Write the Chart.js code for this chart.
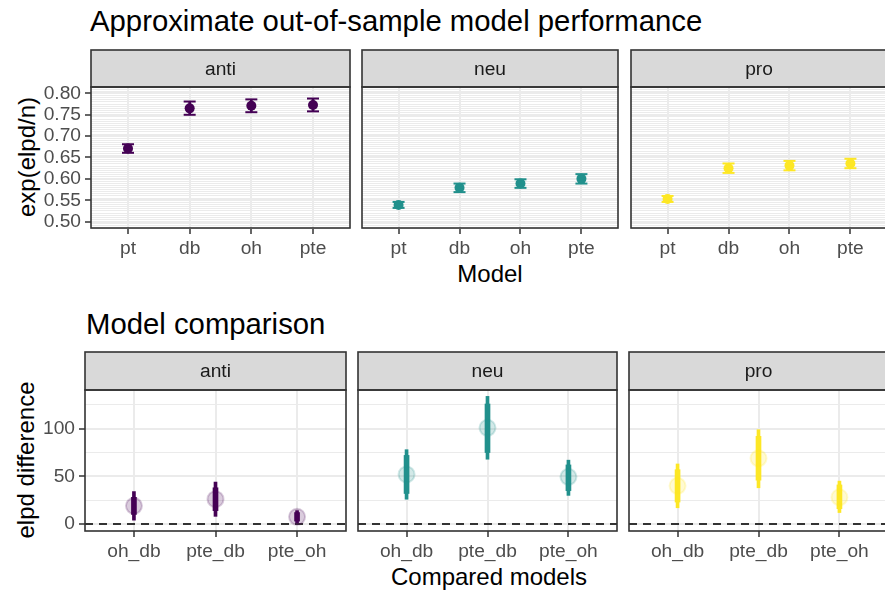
<!DOCTYPE html>
<html>
<head>
<meta charset="utf-8">
<script src="https://cdn.jsdelivr.net/npm/chart.js@4.4.1/dist/chart.umd.min.js"></script>
<style>
  html, body { margin: 0; padding: 0; background: #fff; }
  body { position: relative; width: 885px; height: 591px; overflow: hidden; font-family: "Liberation Sans", Arial, sans-serif; }
  canvas { position: absolute; }
  .title { position: absolute; font-size: 29.3px; line-height: 1; color: #000; white-space: nowrap; }
  .axis-title { position: absolute; font-size: 24px; line-height: 1; color: #000; white-space: nowrap; }
  .x-title { transform: translateX(-50%); }
  .y-title { transform: translate(-50%, -50%) rotate(-90deg); }
</style>
</head>
<body>
<div class="title" style="left:90px; top:6px">Approximate out-of-sample model performance</div>
<div class="axis-title x-title" style="left:490px; top:262px">Model</div>
<div class="axis-title y-title" style="left:27px; top:157px">exp(elpd/n)</div>

<div class="title" style="left:86px; top:309px">Model comparison</div>
<div class="axis-title x-title" style="left:489px; top:565px">Compared models</div>
<div class="axis-title y-title" style="left:26px; top:460px">elpd difference</div>

<script>
// categories
const GROUPS = ['anti', 'neu', 'pro'];
const GROUP_COLORS = ['#440154', '#21908C', '#FDE725'];
const MODELS = ['pt', 'db', 'oh', 'pte'];
const COMPARISONS = ['oh_db', 'pte_db', 'pte_oh'];

// exp(elpd/n): estimate and error bar ends, in MODELS order
const perfAnti = [0.671, 0.765, 0.771, 0.773];
const perfAntiLo = [0.661, 0.750, 0.756, 0.758];
const perfAntiHi = [0.681, 0.781, 0.786, 0.788];
const perfNeu = [0.539, 0.579, 0.589, 0.600];
const perfNeuLo = [0.532, 0.569, 0.579, 0.589];
const perfNeuHi = [0.546, 0.589, 0.599, 0.611];
const perfPro = [0.553, 0.625, 0.631, 0.636];
const perfProLo = [0.546, 0.614, 0.620, 0.625];
const perfProHi = [0.560, 0.636, 0.642, 0.647];

// elpd difference: point, inner interval and outer interval, in COMPARISONS order
const diffAnti = [19, 26, 7.5];
const diffAntiInnerLo = [10, 14, 3];
const diffAntiInnerHi = [28, 38, 12];
const diffAntiOuterLo = [4, 8, 1];
const diffAntiOuterHi = [34, 44, 14];
const diffNeu = [52, 101, 49.5];
const diffNeuInnerLo = [32, 75, 35];
const diffNeuInnerHi = [72, 126, 62];
const diffNeuOuterLo = [26, 68, 30];
const diffNeuOuterHi = [78, 134, 67];
const diffPro = [40, 69, 28];
const diffProInnerLo = [23, 46, 16];
const diffProInnerHi = [57, 92, 41];
const diffProOuterLo = [17, 38, 12];
const diffProOuterHi = [63, 99, 45];

// axis breaks and labels
const PERF_Y_BREAKS = [0.50, 0.55, 0.60, 0.65, 0.70, 0.75, 0.80];
const PERF_Y_LABELS = ['0.50', '0.55', '0.60', '0.65', '0.70', '0.75', '0.80'];
const PERF_Y_MINOR_STEP = 0.005;
const PERF_Y_RANGE = [0.485, 0.815];
const DIFF_Y_BREAKS = [0, 50, 100];
const DIFF_Y_LABELS = ['0', '50', '100'];
const DIFF_Y_MINOR = [25, 75, 125];
const DIFF_Y_RANGE = [-7.4, 140.7];
const DIFF_REF_LINE = 0;

const FONT = '"Liberation Sans", Arial, sans-serif';
const TICK_GREY = '#4d4d4d';
const DARK = '#333333';
const GRID = '#ebebeb';

Chart.defaults.font.family = FONT;

function alpha(hex, a) {
  const n = parseInt(hex.slice(1), 16);
  return `rgba(${(n >> 16) & 255}, ${(n >> 8) & 255}, ${n & 255}, ${a})`;
}

// strip on top of the panel plus the panel frame
const facetPlugin = {
  id: 'facet',
  beforeDraw(chart, args, opts) {
    const { ctx, chartArea: a } = chart;
    ctx.save();
    ctx.fillStyle = '#d9d9d9';
    ctx.fillRect(a.left, opts.stripTop, a.right - a.left, a.top - opts.stripTop);
    ctx.restore();
  },
  afterDraw(chart, args, opts) {
    const { ctx, chartArea: a } = chart;
    ctx.save();
    ctx.strokeStyle = DARK;
    ctx.lineWidth = 1.6;
    ctx.strokeRect(a.left, opts.stripTop, a.right - a.left, a.top - opts.stripTop);
    ctx.strokeRect(a.left, a.top, a.right - a.left, a.bottom - a.top);
    ctx.fillStyle = '#1a1a1a';
    ctx.font = `19.2px ${FONT}`;
    ctx.textAlign = 'center';
    ctx.textBaseline = 'middle';
    ctx.fillText(opts.label, (a.left + a.right) / 2, (opts.stripTop + a.top) / 2 + 1);
    ctx.restore();
  },
};

// dashed reference line
const refLinePlugin = {
  id: 'refLine',
  beforeDatasetsDraw(chart, args, opts) {
    const { ctx, chartArea: a, scales } = chart;
    const y = scales.y.getPixelForValue(opts.value);
    ctx.save();
    ctx.strokeStyle = DARK;
    ctx.lineWidth = 2;
    ctx.setLineDash([8, 6]);
    ctx.beginPath();
    ctx.moveTo(a.left, y);
    ctx.lineTo(a.right, y);
    ctx.stroke();
    ctx.restore();
  },
};

function yTicks(breaks, labels, minor) {
  const ticks = breaks.map((v, i) => ({ value: v, lab: labels[i], major: true }));
  minor.forEach((v) => {
    if (!breaks.some((b) => Math.abs(b - v) < 1e-9)) ticks.push({ value: v, lab: '', major: false });
  });
  return ticks.sort((p, q) => p.value - q.value);
}

function makePanel(opts) {
  const { row, xRange, first, label, cats, yRange, ticks, datasets, plugins, pluginOpts } = opts;
  const canvasLeft = first ? 0 : xRange[0] - 2;
  const canvasTop = row.stripTop - 1;
  const padTop = row.panelTop - canvasTop;
  const width = xRange[1] + 2 - canvasLeft;
  const height = padTop + (row.panelBottom - row.panelTop) + 40;

  const canvas = document.createElement('canvas');
  canvas.width = width;
  canvas.height = height;
  canvas.style.left = canvasLeft + 'px';
  canvas.style.top = canvasTop + 'px';
  document.body.appendChild(canvas);

  const isMajor = (c) => c.tick && c.tick.major;

  return new Chart(canvas, {
    type: 'scatter',
    data: { datasets },
    plugins: [facetPlugin, ...(plugins || [])],
    options: {
      responsive: false,
      animation: false,
      events: [],
      layout: { autoPadding: false, padding: { top: padTop, right: 2, left: 0, bottom: 0 } },
      scales: {
        x: {
          type: 'linear',
          min: 0.4,
          max: cats.length + 0.6,
          offset: false,
          afterBuildTicks: (s) => { s.ticks = cats.map((_, i) => ({ value: i + 1 })); },
          afterFit: (s) => { s.height = 40; },
          ticks: {
            autoSkip: false,
            maxRotation: 0,
            padding: 3,
            color: TICK_GREY,
            font: { size: 19.2 },
            callback: (v, i) => cats[i],
          },
          grid: { offset: false, color: GRID, lineWidth: 2, tickColor: DARK, tickLength: 6, tickWidth: 1.5 },
          border: { display: false },
        },
        y: {
          type: 'linear',
          min: yRange[0],
          max: yRange[1],
          afterBuildTicks: (s) => { s.ticks = ticks.map((t) => ({ ...t })); },
          afterFit: (s) => { s.width = first ? xRange[0] : 2; },
          ticks: {
            display: first,
            autoSkip: false,
            padding: 4,
            color: TICK_GREY,
            font: { size: 19.2 },
            callback: (v, i, t) => t[i].lab,
          },
          grid: {
            offset: false,
            color: GRID,
            lineWidth: (c) => (isMajor(c) ? 2 : 1),
            drawTicks: first,
            tickLength: 6,
            tickWidth: 1.5,
            tickColor: (c) => (isMajor(c) ? DARK : 'rgba(0,0,0,0)'),
          },
          border: { display: false },
        },
      },
      plugins: {
        legend: { display: false },
        tooltip: { enabled: false },
        facet: { label, stripTop: 1 },
        ...(pluginOpts || {}),
      },
    },
  });
}

const PERF_ROW = { stripTop: 50, panelTop: 87, panelBottom: 228 };
const DIFF_ROW = { stripTop: 352, panelTop: 390, panelBottom: 531 };
const PERF_X = [[91, 350], [362, 618], [631, 887]];
const DIFF_X = [[85, 346], [358, 617], [629, 888]];

const perfSeries = [
  [perfAnti, perfAntiLo, perfAntiHi],
  [perfNeu, perfNeuLo, perfNeuHi],
  [perfPro, perfProLo, perfProHi],
];
const diffSeries = [
  [diffAnti, diffAntiInnerLo, diffAntiInnerHi, diffAntiOuterLo, diffAntiOuterHi],
  [diffNeu, diffNeuInnerLo, diffNeuInnerHi, diffNeuOuterLo, diffNeuOuterHi],
  [diffPro, diffProInnerLo, diffProInnerHi, diffProOuterLo, diffProOuterHi],
];

const perfMinor = [];
for (let v = PERF_Y_RANGE[0]; v <= PERF_Y_RANGE[1] + 1e-9; v += PERF_Y_MINOR_STEP) {
  perfMinor.push(Math.round(v * 1000) / 1000);
}
const perfTicks = yTicks(PERF_Y_BREAKS, PERF_Y_LABELS, perfMinor);
const diffTicks = yTicks(DIFF_Y_BREAKS, DIFF_Y_LABELS, DIFF_Y_MINOR);

// top row: estimate with error bars
GROUPS.forEach((group, g) => {
  const [est, lo, hi] = perfSeries[g];
  const color = GROUP_COLORS[g];
  makePanel({
    row: PERF_ROW,
    xRange: PERF_X[g],
    first: g === 0,
    label: group,
    cats: MODELS,
    yRange: PERF_Y_RANGE,
    ticks: perfTicks,
    datasets: [
      {
        data: est.map((y, i) => ({ x: i + 1, y })),
        pointStyle: 'circle',
        pointRadius: 5,
        backgroundColor: color,
        borderWidth: 0,
        order: 0,
      },
      {
        data: [...lo.map((y, i) => ({ x: i + 1, y })), ...hi.map((y, i) => ({ x: i + 1, y }))],
        pointStyle: 'line',
        pointRadius: 6,
        borderColor: color,
        borderWidth: 2,
        order: 1,
      },
      {
        type: 'bar',
        data: est.map((_, i) => ({ x: i + 1, y: [lo[i], hi[i]] })),
        backgroundColor: color,
        barThickness: 2,
        grouped: false,
        borderWidth: 0,
        order: 2,
      },
    ],
  });
});

// bottom row: point with inner and outer intervals
GROUPS.forEach((group, g) => {
  const [est, innerLo, innerHi, outerLo, outerHi] = diffSeries[g];
  const color = GROUP_COLORS[g];
  makePanel({
    row: DIFF_ROW,
    xRange: DIFF_X[g],
    first: g === 0,
    label: group,
    cats: COMPARISONS,
    yRange: DIFF_Y_RANGE,
    ticks: diffTicks,
    plugins: [refLinePlugin],
    pluginOpts: { refLine: { value: DIFF_REF_LINE } },
    datasets: [
      {
        data: est.map((y, i) => ({ x: i + 1, y })),
        pointStyle: 'circle',
        pointRadius: 8,
        backgroundColor: alpha(color, 0.2),
        borderColor: alpha(color, 0.2),
        borderWidth: 2,
        order: 0,
      },
      {
        type: 'bar',
        data: est.map((_, i) => ({ x: i + 1, y: [innerLo[i], innerHi[i]] })),
        backgroundColor: color,
        barThickness: 5,
        grouped: false,
        borderWidth: 0,
        order: 1,
      },
      {
        type: 'bar',
        data: est.map((_, i) => ({ x: i + 1, y: [outerLo[i], outerHi[i]] })),
        backgroundColor: color,
        barThickness: 3,
        grouped: false,
        borderWidth: 0,
        order: 2,
      },
    ],
  });
});
</script>
</body>
</html>
